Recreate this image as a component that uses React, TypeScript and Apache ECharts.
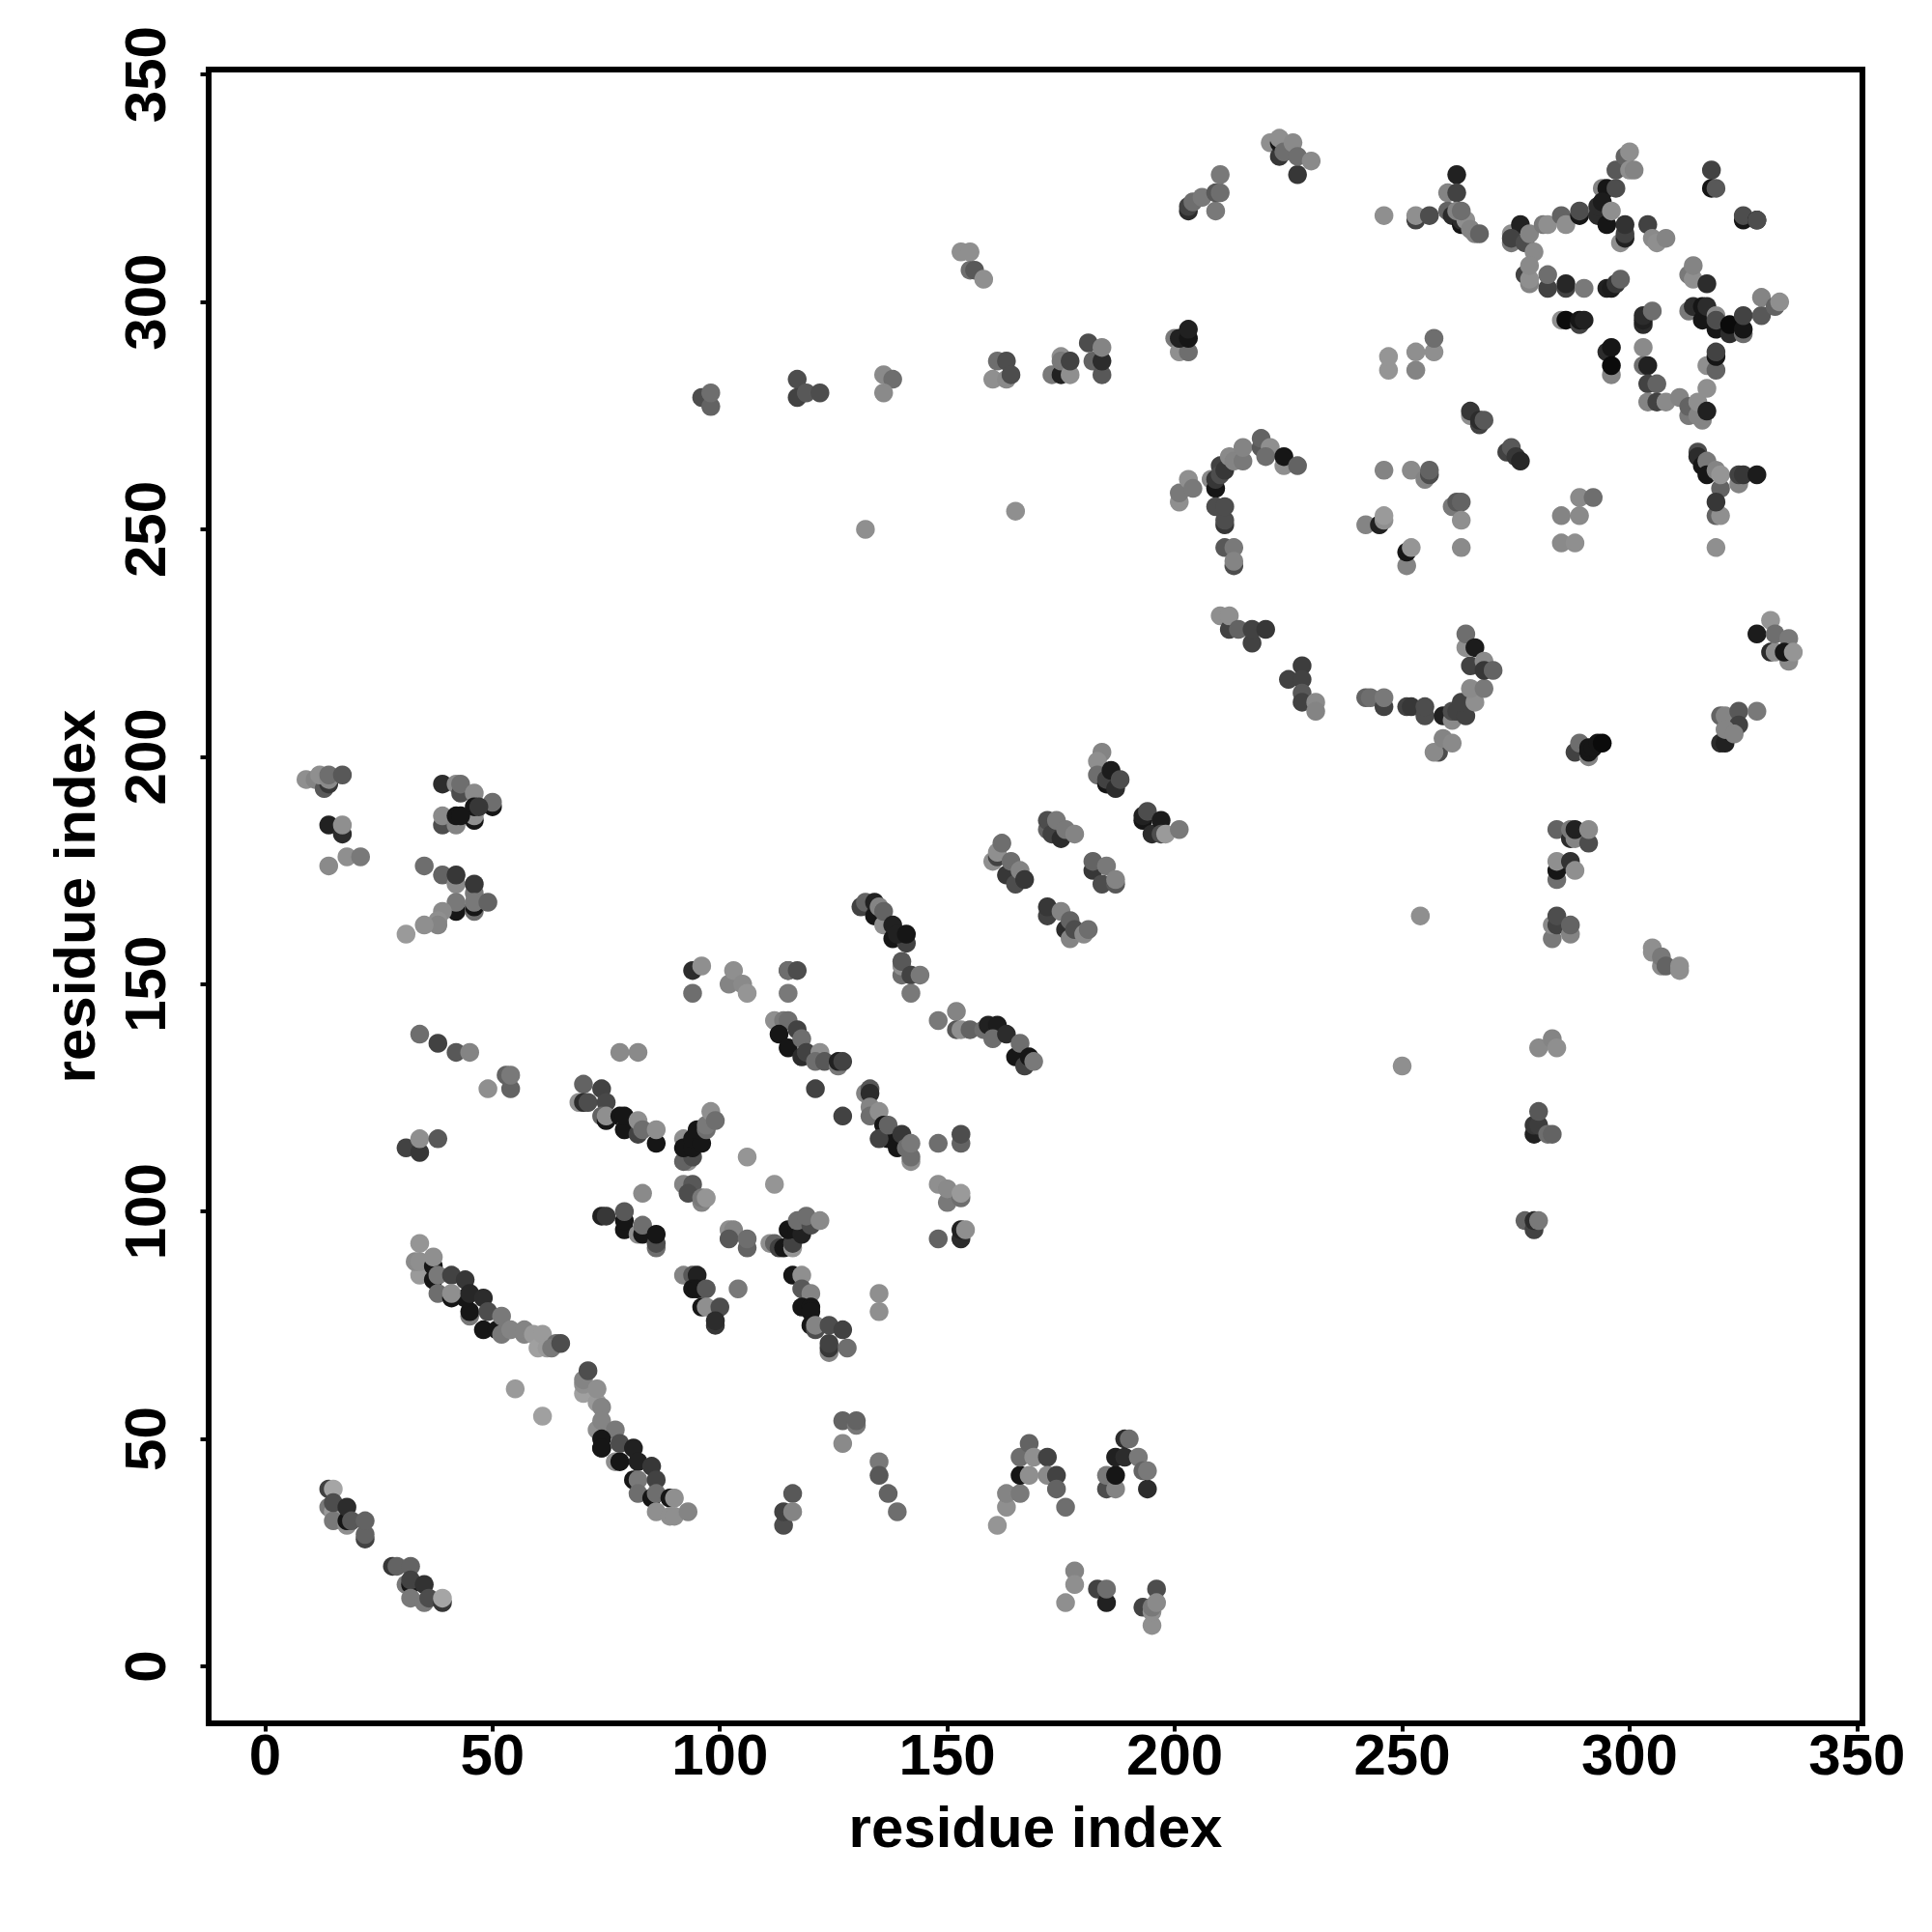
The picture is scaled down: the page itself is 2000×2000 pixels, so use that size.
import React, { useEffect, useRef } from "react";
import * as echarts from "echarts";

type P = [number, number, number];

const axisName = "residue index";
const tickValues = [0, 50, 100, 150, 200, 250, 300, 350];

// each point: x residue, y residue, grey level of the contact
const bottomLeftA: P[] = [[14,39,60],[15,39,150],[14,35,110],[15,34,140],[15,32,110],[15,36,70],[18,31,130],[18,32,20],[18,35,40],[19,32,80],[22,28,60],[22,29,90],[22,32,90]];
const bottomLeftB: P[] = [[28,22,50],[29,22,90],[32,22,90],[31,18,110],[32,18,20],[32,19,60],[32,15,110],[35,14,110],[35,18,45],[36,15,70],[39,14,50],[39,15,150]];
const diagA: P[] = [[34,86,140],[37,85,20],[38,82,100],[41,81,20],[45,77,110],[45,78,20],[44,81,20],[48,74,20],[51,74,20],[52,73,110],[34,93,135],[33,89,125],[34,89,130],[37,88,20],[37,90,130],[38,86,110],[41,86,60],[41,82,130],[44,85,50],[45,82,35],[48,81,40],[49,78,70],[52,77,110],[54,74,120],[57,73,120],[57,74,120],[59,73,140],[60,70,145],[61,73,140],[62,70,140],[64,71,100],[63,70,110],[65,71,70]];
const strayA: P[] = [[55,61,140],[61,55,145]];
const diagB: P[] = [[70,60,145],[70,62,130],[70,63,120],[71,65,70],[73,58,140],[73,61,130],[74,57,120],[73,52,130],[74,54,120],[77,52,110],[74,48,40],[74,50,20],[74,48,20],[77,45,130],[78,45,20],[78,49,70],[81,48,30],[82,45,30],[85,44,50],[81,41,20],[82,41,110],[86,41,60],[82,38,100],[85,37,20],[86,38,100],[86,34,130],[89,37,20],[89,33,130],[90,33,130],[90,37,130],[93,34,120]];
const row114: P[] = [[31,114,60],[34,113,50],[34,116,130],[38,116,80]];
const low114: P[] = [[116,38,80],[114,31,70],[114,34,60],[116,34,120]];
const low127: P[] = [[127,54,90],[130,53,110],[130,54,90],[127,49,125]];
const low135: P[] = [[135,45,110],[135,42,80],[137,38,90],[139,34,100]];
const clusterD: P[] = [[70,128,90],[74,127,60],[69,124,130],[70,124,40],[71,124,70],[75,124,65],[74,121,90],[75,120,20],[75,121,130],[78,121,20],[79,118,130],[79,118,20],[79,121,20],[82,117,60],[82,120,130],[83,118,100],[86,115,20],[86,118,130]];
const clusterE: P[] = [[93,111,130],[92,111,90],[94,112,70],[92,116,130],[92,114,20],[94,114,20],[94,116,20],[96,115,20],[95,118,20],[97,118,100],[97,119,110],[98,122,130],[99,120,100]];
const strayB: P[] = [[106,112,135],[83,104,125],[112,106,135],[104,83,110],[135,82,130],[135,78,130],[121,127,60],[127,121,60]];
const clusterF: P[] = [[92,106,120],[94,106,80],[93,104,70],[96,102,120],[96,103,110],[97,103,135]];
const clusterG: P[] = [[74,99,30],[75,99,50],[79,96,20],[79,98,20],[79,100,80],[82,95,130],[83,95,20],[83,97,100],[86,92,100],[86,93,70],[86,95,20]];
const clusterH: P[] = [[102,96,130],[103,96,120],[102,94,80],[106,92,90],[106,94,100]];
const clusterI: P[] = [[111,93,130],[112,93,90],[113,92,60],[114,92,20],[116,92,135],[116,93,60],[115,96,20],[117,96,20],[118,95,30],[117,98,100],[120,97,70],[119,99,100],[122,98,125]];
const clusterJ: P[] = [[92,86,120],[94,86,80],[95,86,30],[94,83,20],[95,83,20],[97,83,80],[96,79,20],[97,79,130],[100,79,70],[99,75,50],[99,76,40]];
const clusterK: P[] = [[116,86,20],[118,86,130],[118,83,80],[120,82,120],[118,79,20],[120,79,20],[120,78,20],[120,75,20],[121,74,70],[121,75,120],[124,69,120],[124,70,50],[124,71,60],[124,75,70],[127,74,60],[128,70,100]];
const clusterL: P[] = [[94,148,100],[94,153,40],[96,154,130],[102,150,120],[103,153,130],[105,150,125],[106,148,135],[115,148,110],[115,153,60],[115,153,100],[117,153,70]];
const clusterM: P[] = [[112,142,130],[114,142,110],[115,142,100],[113,139,20],[115,136,20],[117,140,60],[118,134,40],[118,138,100],[119,135,60],[122,135,130],[121,133,100],[123,133,80],[126,132,110],[126,133,30],[127,133,60]];
const clusterN: P[] = [[132,126,120],[133,127,80],[133,126,40],[133,123,120],[133,121,100],[135,122,130],[136,119,20],[137,116,20],[135,116,60],[137,119,90],[139,114,20],[140,117,50],[142,111,130],[142,112,100],[141,114,100],[142,115,110]];
const clusterO: P[] = [[148,115,100],[153,115,90],[153,117,70],[148,106,130],[150,102,110],[150,105,125],[153,103,100],[153,104,140],[148,94,90],[153,94,40],[153,96,30],[154,96,130]];
const clusterP: P[] = [[184,201,120],[183,199,130],[183,196,100],[185,194,20],[185,195,60],[187,193,40],[186,197,25],[188,195,70]];
const clusterQ: P[] = [[193,186,20],[193,187,30],[195,183,40],[194,188,70],[197,186,25],[197,183,70],[198,183,140],[201,184,110]];
const clusterR: P[] = [[172,184,90],[172,186,70],[173,183,60],[175,182,40],[174,186,110],[176,184,110],[178,183,120]];
const clusterS: P[] = [[160,177,130],[161,178,60],[161,179,130],[162,181,100],[163,174,50],[164,177,100],[165,172,70],[166,175,120],[167,173,50]];
const clusterT: P[] = [[182,175,50],[182,177,90],[184,172,70],[185,176,110],[187,172,80],[187,173,120]];
const clusterU: P[] = [[172,165,60],[172,167,50],[175,166,120],[176,162,40],[177,160,120],[177,164,90],[178,162,70],[180,161,125],[181,162,100]];
const clusterV: P[] = [[131,167,60],[132,168,90],[134,165,20],[134,168,30],[135,167,120],[136,163,130],[136,166,90],[138,160,20],[138,163,30],[141,159,60],[139,161,30],[141,161,20]];
const clusterW: P[] = [[140,152,100],[140,154,130],[140,155,80],[142,152,60],[144,152,110],[142,148,110]];
const clusterX: P[] = [[148,142,110],[152,144,120],[152,140,80],[153,140,130],[155,140,90],[158,140,100],[159,141,30],[161,141,25],[160,138,100],[163,139,40],[165,134,20],[166,137,100],[167,132,60],[168,134,20],[169,133,110]];
const topLeftA: P[] = [[9,195,130],[11,195,120],[13,193,80],[14,194,50],[12,196,130],[14,195,125],[14,196,100],[17,196,80],[14,185,30],[17,183,40],[17,185,130],[18,178,130],[21,178,110],[14,176,125]];
const topLeftB: P[] = [[39,194,40],[42,194,125],[43,192,70],[43,194,100],[46,192,125],[50,189,20],[50,190,100],[46,186,20],[46,187,130],[46,189,20],[47,189,50],[39,185,70],[39,187,125],[42,185,120],[42,187,20],[43,187,20]];
const topLeftC: P[] = [[35,176,100],[39,174,90],[42,172,125],[42,174,50],[46,170,110],[46,172,50],[42,166,20],[42,168,110],[39,166,125],[46,166,100],[46,167,20],[46,168,110],[49,168,90],[38,164,130],[38,163,120],[35,163,130],[31,161,140]];
const mid135: P[] = [[34,139,100],[38,137,60],[42,135,80],[45,135,120],[49,127,130],[53,130,90],[54,127,90],[54,130,110],[78,135,125],[82,135,125]];
const lowMidA: P[] = [[161,31,135],[163,35,130],[163,38,120],[166,38,110],[166,42,20],[166,46,100],[168,42,130],[168,49,90],[169,46,130],[172,46,60],[172,42,125],[174,42,60],[174,39,90],[176,35,100]];
const lowMidB: P[] = [[176,14,130],[178,21,120],[178,18,130],[183,17,60],[185,14,30],[185,17,100]];
const lowMidC: P[] = [[185,39,70],[185,42,110],[187,39,120],[187,42,20],[187,46,30],[189,46,40],[189,50,40],[190,50,100],[192,46,110],[193,43,90],[194,39,40],[194,43,110]];
const lowMidD: P[] = [[193,13,60],[195,9,130],[196,17,70],[195,12,130],[195,13,110],[196,14,125]];
const upperA: P[] = [[96,279,70],[98,277,90],[98,280,100],[117,283,70],[117,279,60],[119,280,80],[122,280,70],[136,284,125],[138,283,100],[136,280,125]];
const upperB: P[] = [[153,311,130],[155,311,130],[155,307,100],[156,307,80],[158,305,130]];
const upperC: P[] = [[160,283,130],[161,287,100],[163,287,70],[163,283,125],[164,284,70],[173,284,110],[175,284,30],[175,288,130],[175,287,110],[177,284,130],[177,287,60],[181,291,70],[182,287,90],[184,284,80],[184,287,40],[184,290,120]];
const strayC: P[] = [[132,250,130],[165,254,130],[254,165,130],[250,132,130]];
const upperD: P[] = [[200,292,110],[201,289,130],[203,289,100],[201,292,30],[203,292,20],[203,294,30]];
const upperE: P[] = [[203,320,40],[203,321,60],[204,322,100],[206,323,110],[209,320,110],[209,324,80],[210,324,100],[210,328,110]];
const upperF: P[] = [[221,335,130],[223,332,50],[223,335,20],[223,336,130],[224,333,100],[226,335,125],[227,328,50],[227,332,100],[230,331,125]];
const peakA: P[] = [[246,319,130],[253,318,60],[253,319,130],[256,319,70],[262,328,30],[260,324,120],[262,324,60],[260,320,90],[261,319,40],[263,317,20],[263,318,40],[262,320,120],[264,318,130],[263,320,100],[265,316,120],[266,315,120],[267,315,90]];
const peakB: P[] = [[274,313,110],[274,315,130],[276,317,30],[274,314,60],[277,313,70],[278,315,120],[279,311,125],[281,317,110],[282,317,130],[285,319,90],[286,317,130],[289,319,20],[289,320,70]];
const peakC: P[] = [[297,329,80],[299,332,90],[300,333,130],[300,329,130],[301,329,120],[294,325,120],[295,325,20],[297,325,70],[293,319,40],[293,321,40],[294,322,25],[295,317,20],[296,320,130],[298,313,130],[299,314,30],[299,315,60],[299,317,45],[304,317,60],[305,314,125],[306,313,130],[308,314,120]];
const peakD: P[] = [[277,306,60],[278,304,120],[278,305,130],[278,308,125],[282,303,60],[282,306,100],[286,303,60],[286,304,35],[290,303,110],[295,303,30],[296,303,25],[297,304,50],[298,305,90]];
const peakE: P[] = [[285,296,130],[286,296,10],[289,295,60],[289,296,20],[290,296,30],[303,295,40],[303,296,30],[303,297,40],[305,298,100],[295,289,40],[296,290,20],[296,284,120],[296,286,10],[303,290,125],[303,286,100],[304,286,30],[304,282,60],[306,282,90]];
const peakF: P[] = [[304,278,120],[306,278,60],[308,278,125],[311,279,120],[313,275,110],[313,277,90],[316,274,120],[315,275,120],[315,278,130],[317,276,30],[317,281,130],[317,286,130],[319,285,90],[319,288,20],[319,289,60],[313,306,110],[314,305,130],[314,308,120],[317,304,40]];
const peakG: P[] = [[313,298,110],[314,299,40],[316,296,20],[316,299,20],[317,299,40],[319,294,20],[319,297,125],[319,296,70],[322,293,40],[322,295,10],[325,293,100],[325,294,20],[325,297,60],[329,297,80],[329,301,120],[332,299,90],[333,300,130]];
const peakH: P[] = [[318,329,60],[318,325,20],[319,325,80],[325,318,20],[325,319,70],[328,318,20],[328,318,70]];
const bandA: P[] = [[315,267,70],[315,266,40],[316,264,20],[317,265,110],[317,262,20],[319,263,120],[320,259,90],[320,262,135],[324,260,120],[324,262,60],[325,262,50],[328,262,25],[319,253,90],[320,253,130],[319,256,50],[319,246,130]];
const midA: P[] = [[246,263,120],[252,263,125],[255,261,120],[256,262,70],[256,263,90],[265,275,130],[265,276,50],[267,273,60],[267,274,40],[268,274,80],[273,267,60],[274,268,80],[275,266,50],[276,265,35]];
const midB: P[] = [[261,255,110],[262,256,80],[263,256,90],[263,252,130],[263,246,125],[242,251,120],[245,251,30],[246,252,130],[246,253,140],[251,242,120],[251,245,20],[252,246,135]];
const midC: P[] = [[247,285,135],[247,288,135],[253,285,120],[253,289,130],[257,289,130],[257,292,100],[285,253,120],[289,253,125],[289,257,125],[292,257,100],[285,247,125],[288,247,130]];
const arcA: P[] = [[201,256,130],[201,258,110],[203,261,130],[204,259,110],[208,261,125],[209,259,20],[209,261,50],[210,264,60],[210,262,70],[211,263,50],[212,266,125],[213,265,120],[215,265,110],[215,268,120],[211,251,50],[211,252,70],[209,255,70],[211,255,70],[219,268,80],[219,270,90],[221,268,130],[220,266,100],[224,264,130],[224,266,20],[227,264,90],[211,246,80],[213,242,70],[213,246,110],[213,243,120]];
const arcB: P[] = [[210,231,130],[212,228,60],[212,231,130],[214,228,90],[217,225,60],[217,228,60],[220,228,50],[228,220,55],[225,217,60],[228,217,60],[228,214,80],[228,212,60],[231,212,125],[231,210,120]];
const arcC: P[] = [[242,213,90],[243,213,100],[246,211,60],[246,213,110],[251,211,60],[252,211,50],[255,209,70],[255,211,70],[259,209,30],[261,208,125],[261,210,70],[262,210,60],[264,209,60],[263,212,60],[266,212,130],[265,215,125],[268,215,110],[265,220,60],[264,224,130],[264,227,100],[266,224,25],[268,221,125],[268,219,50],[270,219,90],[258,201,70],[257,201,125],[259,204,120],[261,203,125]];
const rightA: P[] = [[328,227,25],[331,230,135],[331,223,40],[332,223,130],[332,227,100],[335,221,125],[335,226,110],[334,223,20],[336,223,135]];
const rightB: P[] = [[288,201,60],[289,203,100],[291,200,120],[291,201,20],[291,202,20],[292,202,20],[293,203,20],[294,203,10]];
const rightC: P[] = [[320,209,90],[321,209,120],[324,210,80],[324,207,60],[328,210,110],[320,203,40],[321,203,30],[321,206,120],[323,205,120]];
const columnA: P[] = [[284,184,90],[287,182,40],[287,184,110],[288,182,120],[288,184,30],[291,181,70],[291,184,125],[284,173,100],[284,175,20],[284,177,130],[287,177,45],[288,175,130]];
const columnB: P[] = [[283,160,110],[283,163,125],[284,163,60],[284,165,70],[287,161,120],[287,163,90],[305,157,130],[305,158,130],[307,154,125],[307,156,110],[308,154,90],[311,153,130],[311,154,130]];
const columnC: P[] = [[280,136,125],[283,138,120],[284,136,130],[279,117,30],[279,119,50],[280,119,55],[280,122,80],[282,117,100],[283,117,90],[277,98,90],[279,96,60],[279,98,40],[280,98,110]];

const allClusters: P[][] = [
  bottomLeftA, bottomLeftB, diagA, strayA, diagB, row114, low114, low127, low135, clusterD, clusterE, strayB,
  clusterF, clusterG, clusterH, clusterI, clusterJ, clusterK, clusterL, clusterM, clusterN, clusterO, clusterP,
  clusterQ, clusterR, clusterS, clusterT, clusterU, clusterV, clusterW, clusterX, topLeftA, topLeftB, topLeftC,
  mid135, lowMidA, lowMidB, lowMidC, lowMidD, upperA, upperB, upperC, strayC, upperD, upperE, upperF, peakA,
  peakB, peakC, peakD, peakE, peakF, peakG, peakH, bandA, midA, midB, midC, arcA, arcB, arcC, rightA, rightB,
  rightC, columnA, columnB, columnC,
];

const FONT = "'Liberation Sans', Arial, sans-serif";

export default function App() {
  const ref = useRef<HTMLDivElement>(null);
  useEffect(() => {
    const chart = echarts.init(ref.current!, null, { renderer: "svg" });
    const axisCommon = {
      type: "value" as const,
      name: axisName,
      nameLocation: "middle" as const,
      nameTextStyle: { fontFamily: FONT, fontWeight: "bold" as const, fontSize: 60, color: "#000" },
      splitLine: { show: false },
      axisLine: { show: false, onZero: false },
      axisTick: { show: true, length: 8.5, inside: false, customValues: tickValues, lineStyle: { color: "#000", width: 4 } },
    };
    const labelCommon = {
      show: true,
      customValues: tickValues,
      fontFamily: FONT,
      fontWeight: "bold" as const,
      fontSize: 60,
      color: "#000",
    };
    chart.setOption({
      animation: false,
      backgroundColor: "#fff",
      grid: {
        show: true,
        left: 216,
        top: 72,
        width: 1712,
        height: 1712,
        borderColor: "#000",
        borderWidth: 6,
        backgroundColor: "transparent",
        containLabel: false,
      },
      xAxis: {
        ...axisCommon,
        min: -12.4,
        max: 351.2,
        nameGap: 77,
        axisLabel: { ...labelCommon, margin: 2 },
      },
      yAxis: {
        ...axisCommon,
        min: -12.53,
        max: 351.1,
        nameGap: 109,
        axisLabel: { ...labelCommon, rotate: 90, margin: 36 },
      },
      series: [
        {
          type: "scatter",
          symbol: "circle",
          symbolSize: 19.5,
          clip: false,
          data: allClusters.flat(),
          itemStyle: {
            opacity: 1,
            color: (p: any) => {
              const g = Math.round(p.value[2] * 1.1);
              return `rgb(${g},${g},${g})`;
            },
          },
        },
      ],
    });
    return () => chart.dispose();
  }, []);
  return <div ref={ref} style={{ position: "absolute", left: 0, top: 0, width: 2000, height: 2000 }} />;
}
